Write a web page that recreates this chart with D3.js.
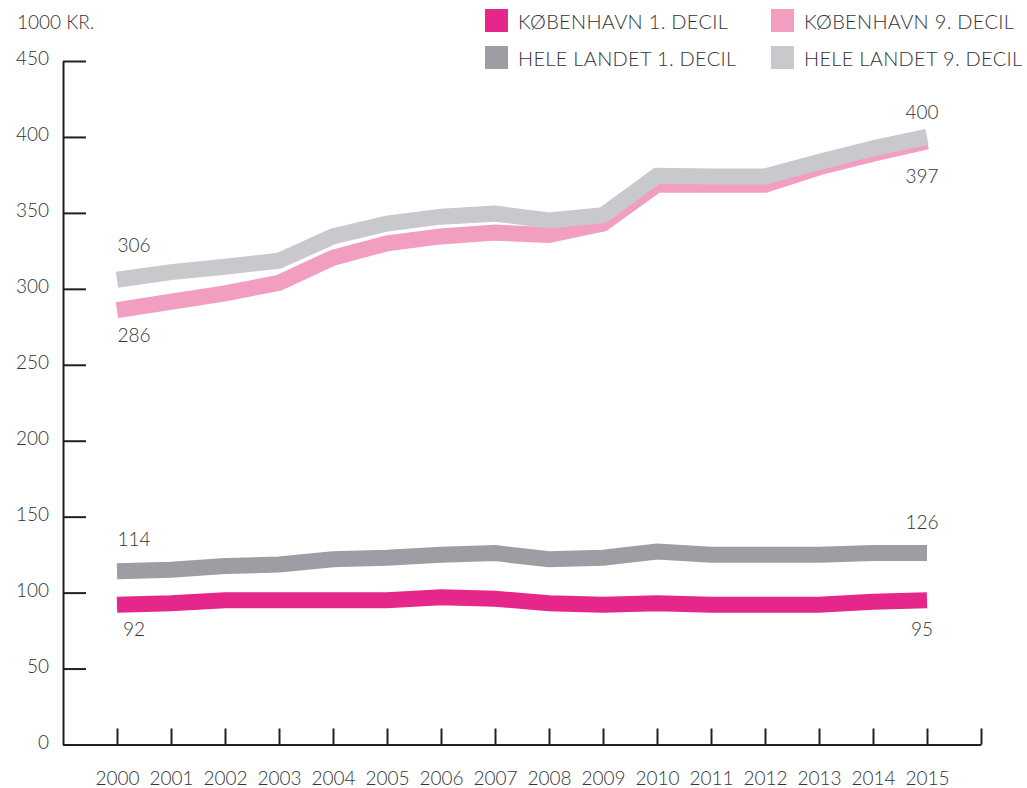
<!DOCTYPE html>
<html>
<head>
<meta charset="utf-8">
<script src="https://cdn.jsdelivr.net/npm/d3@7"></script>
<style>
  body { margin: 0; background: #fff; }
  svg text { font-family: Lato, "Open Sans", sans-serif; font-weight: 300; fill: #333335; }
  .axis path, .axis line { stroke: #231f20; stroke-width: 2; }
</style>
</head>
<body>
<svg id="chart" width="1027" height="788"></svg>
<script>

// data (1000 kr.)
var years  = [2000, 2001, 2002, 2003, 2004, 2005, 2006, 2007, 2008, 2009, 2010, 2011, 2012, 2013, 2014, 2015];
var kbh1   = [92, 93, 95, 95, 95, 95, 97, 96, 93, 92, 93, 92, 92, 92, 94, 95];
var kbh9   = [286, 291.5, 297, 304, 320.5, 330, 334.5, 337, 335.5, 343, 368.5, 368.5, 368.5, 380, 389, 397];
var hele1  = [114, 115, 117.5, 118.5, 122, 123, 125, 126, 122, 123, 127, 125, 125, 125, 126, 126];
var hele9  = [306, 311, 314.5, 318.5, 334.5, 343, 347.5, 349.5, 345, 348.5, 374.5, 374, 374, 383.5, 392.5, 400];

var yTicks      = [0, 50, 100, 150, 200, 250, 300, 350, 400, 450];
var seriesNames = ["KØBENHAVN 1. DECIL", "KØBENHAVN 9. DECIL", "HELE LANDET 1. DECIL", "HELE LANDET 9. DECIL"];
var seriesColor = ["#e5268b", "#f19ec1", "#9c9ea3", "#c9c9cd"];

var series = [kbh1, kbh9, hele1, hele9];

var svg = d3.select("#chart")
  , fontSize = 19
  , x = d3.scaleLinear().domain([1999, 2016]).range([63, 981])
  , y = d3.scaleLinear().domain([0, 450]).range([744.5, 61]);

// y axis, ticks point inward
svg.append("g")
  .attr("class", "axis y-axis")
  .attr("transform", "translate(" + x(1999) + ",0)")
  .call(d3.axisLeft(y).tickValues(yTicks).tickSize(-23).tickSizeOuter(0).tickPadding(14))
  .call(function (g) {
    g.selectAll("text").attr("font-size", fontSize).attr("dy", "0.2em");
  });

// x axis, one extra tick at the right end without label
svg.append("g")
  .attr("class", "axis x-axis")
  .attr("transform", "translate(0," + y(0) + ")")
  .call(d3.axisBottom(x).tickValues(years.concat([2016])).tickSize(-16).tickSizeOuter(0).tickPadding(27)
    .tickFormat(function (d) { return d <= 2015 ? d : ""; }))
  .call(function (g) {
    g.selectAll("text").attr("font-size", fontSize);
  });

svg.selectAll(".axis text").style("fill", "#333335");
svg.selectAll(".axis .domain").attr("fill", "none");

// the lines
var line = d3.line()
  .x(function (d, i) { return x(years[i]); })
  .y(function (d) { return y(d); });

svg.append("g").selectAll("path")
  .data(series)
  .join("path")
    .attr("d", line)
    .attr("fill", "none")
    .attr("stroke", function (d, i) { return seriesColor[i]; })
    .attr("stroke-width", 16)
    .attr("stroke-linejoin", "miter")
    .attr("stroke-linecap", "butt");

// first/last value labels, offset from the line centre to the baseline
var labelDy = [[31, 36], [32, 41], [-25, -24], [-28, -18]];

series.forEach(function (s, i) {
  var last = s.length - 1;
  svg.append("text")
    .attr("x", x(years[0]) + 17)
    .attr("y", y(s[0]) + labelDy[i][0])
    .attr("text-anchor", "middle")
    .attr("font-size", fontSize)
    .text(Math.round(s[0]));
  svg.append("text")
    .attr("x", x(years[last]) - 5)
    .attr("y", y(s[last]) + labelDy[i][1])
    .attr("text-anchor", "middle")
    .attr("font-size", fontSize)
    .text(Math.round(s[last]));
});

// unit
svg.append("text")
  .attr("x", 17)
  .attr("y", 29)
  .attr("font-size", fontSize)
  .text("1000 KR.");

// legend, 2x2
var legend = svg.append("g").selectAll("g")
  .data(seriesNames)
  .join("g")
    .attr("transform", function (d, i) {
      return "translate(" + (i % 2 ? 771 : 485) + "," + (i < 2 ? 9 : 46) + ")";
    });

legend.append("rect")
  .attr("width", 23)
  .attr("height", 23)
  .attr("fill", function (d, i) { return seriesColor[i]; });

legend.append("text")
  .attr("x", 33)
  .attr("y", 20)
  .attr("font-size", 20)
  .attr("letter-spacing", 0.3)
  .text(function (d) { return d; });

</script>
</body>
</html>
